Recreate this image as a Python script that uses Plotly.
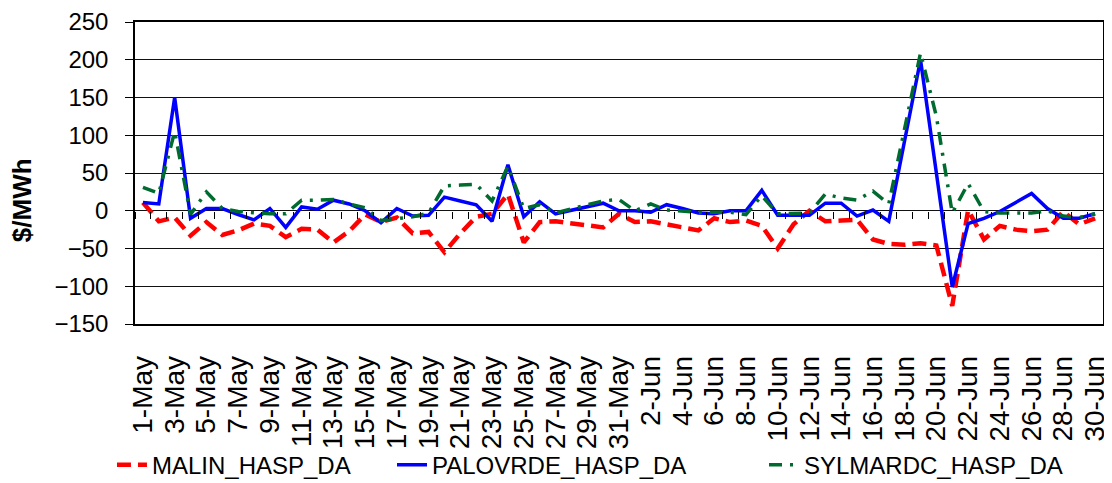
import plotly.graph_objects as go

# Categories: daily, 1-May .. 30-Jun
days = [f"{d}-May" for d in range(1, 32)] + [f"{d}-Jun" for d in range(1, 31)]
tick_labels = days[::2]

malin = [11, -14, -9, -33, -15, -32, -26, -17, -20, -35,
         -24, -25, -42, -27, -5, -15, -9, -30, -28, -55,
         -30, -8, -4, 22, -42, -15, -14, -17, -20, -22,
         -4, -15, -14, -18, -22, -26, -10, -15, -13, -20,
         -50, -18, 0, -14, -13, -12, -38, -44, -45, -43,
         -46, -126, 1, -38, -20, -25, -27, -25, -1, -18,
         -10]

palovrde = [11, 9, 150, -10, 3, 3, -5, -12, 3, -22,
            5, 2, 14, 9, 0, -16, 3, -7, -6, 18,
            13, 8, -14, 61, -8, 12, -4, 1, 5, 10,
            0, 0, -2, 8, 3, -3, -4, 0, 0, 27,
            -6, -6, -6, 10, 10, -7, 1, -14, 92, 200,
            50, -101, -17, -10, -1, 11, 23, 3, -10, -10,
            -4]

sylmardc = [31, 23, 105, -5, 25, 3, -1, -3, -4, -4,
            14, 14, 15, 9, 4, -13, -10, -8, -3, 33,
            34, 35, 13, 59, 3, 8, -3, 3, 8, 13,
            15, 0, 9, 1, -1, -2, -2, -2, -5, 20,
            -4, -3, -3, 22, 17, 14, 26, 9, 107, 209,
            125, -3, 36, -1, -3, -3, -3, 0, -7, -9,
            -4]

y_ticks = [-150, -100, -50, 0, 50, 100, 150, 200, 250]

FONT = "Liberation Sans, Arial, sans-serif"

fig = go.Figure()
fig.add_trace(go.Scatter(
    x=days, y=malin, name="MALIN_HASP_DA", mode="lines",
    line=dict(color="#FF0000", width=4.5, dash="14px,7px"),
    legend="legend", showlegend=True))
fig.add_trace(go.Scatter(
    x=days, y=palovrde, name="PALOVRDE_HASP_DA", mode="lines",
    line=dict(color="#0000FF", width=3.5),
    legend="legend2", showlegend=True))
fig.add_trace(go.Scatter(
    x=days, y=sylmardc, name="SYLMARDC_HASP_DA", mode="lines",
    line=dict(color="#006B2E", width=3.5, dash="13px,8px,3px,8px"),
    legend="legend3", xaxis="x2", showlegend=True))

# plot area: 302 px tall, bottom at 316 px within the figure
leg_common = dict(orientation="h", y=-0.467, yanchor="middle", xanchor="left",
                  font=dict(size=24, family=FONT, color="black"),
                  bgcolor="rgba(0,0,0,0)", borderwidth=0)

fig.update_layout(
    width=1104, height=475,
    showlegend=True,
    margin=dict(l=127, r=9, t=14, b=159, autoexpand=False),
    paper_bgcolor="white", plot_bgcolor="white",
    font=dict(family=FONT, color="black"),
    xaxis=dict(type="category", categoryorder="array", categoryarray=days,
               range=[-0.5, 60.5], tickmode="array", tickvals=tick_labels,
               ticktext=tick_labels, tickangle=-90, tickfont=dict(size=28),
               ticks="", ticklabelstandoff=19, showline=True, linecolor="black",
               linewidth=1.5, mirror=True, showgrid=False, zeroline=False,
               automargin=False, ticklabeloverflow="allow"),
    xaxis2=dict(type="category", categoryorder="array", categoryarray=days,
                range=[-0.5, 60.5], overlaying="x", anchor="free",
                position=0.375, showticklabels=False, ticks="outside",
                ticklen=7, tickcolor="black", tickwidth=1, tickson="boundaries",
                tickmode="linear", tick0=0, dtick=1, showgrid=False,
                showline=False, zeroline=False, automargin=False),
    yaxis=dict(range=[-150, 250], tickmode="array", tickvals=y_ticks,
               ticks="outside", ticklen=8, tickcolor="black",
               showgrid=True, gridcolor="#111111", gridwidth=1,
               showline=True, linecolor="black", linewidth=1.5, mirror=True,
               zeroline=False, tickfont=dict(size=24), ticklabelstandoff=12,
               automargin=False, ticklabeloverflow="allow"),
    legend=dict(x=-0.0238, **leg_common),
    legend2=dict(x=0.2655, **leg_common),
    legend3=dict(x=0.6498, **leg_common),
    annotations=[dict(text="<b>$/MWh</b>", textangle=-90, xref="paper",
                      yref="paper", x=-0.1167, y=0.41, xanchor="center",
                      yanchor="middle", showarrow=False,
                      font=dict(size=26, family=FONT, color="black"))],
)

fig.write_html("out.html")
